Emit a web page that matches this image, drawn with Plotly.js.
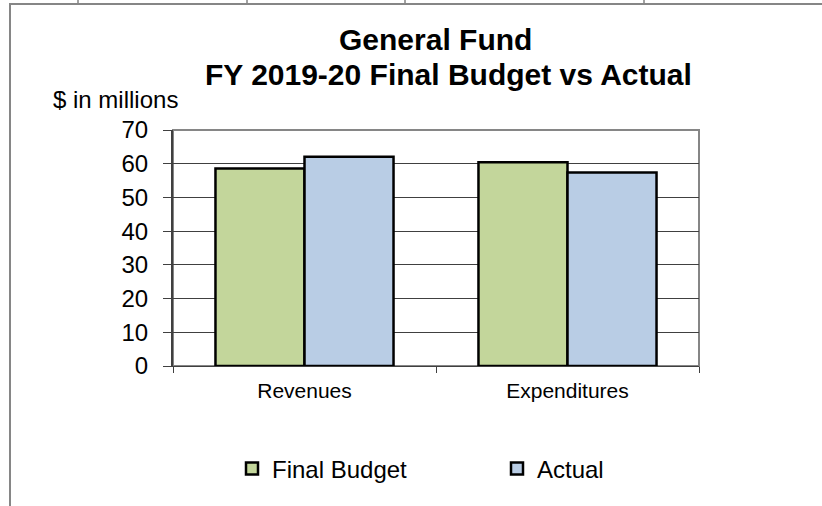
<!DOCTYPE html>
<html>
<head>
<meta charset="utf-8">
<script src="https://cdn.plot.ly/plotly-3.0.1.min.js"></script>
<style>
html,body{margin:0;padding:0;background:#fff;}
#chart{width:822px;height:506px;}
</style>
</head>
<body>
<div id="chart"></div>
<script>
// ---- data ----
var categories = ["Revenues", "Expenditures"];
var seriesNames = ["Final Budget", "Actual"];
var finalBudget = [58.6, 60.4];
var actual = [62.1, 57.4];
var yTicks = [0, 10, 20, 30, 40, 50, 60, 70];
var titleLine1 = "General Fund";
var titleLine2 = "FY 2019-20 Final Budget vs Actual";
var yUnitLabel = "$ in millions";

// ---- layout helpers (pixel -> paper) ----
var W = 822, H = 506;
var L = 173, R = 699, T = 130, B = 366;
function px(x){ return (x - L) / (R - L); }
function py(y){ return (B - y) / (B - T); }

var FONT = "Arial, 'Liberation Sans', sans-serif";

var traces = [
  {type: "bar", name: seriesNames[0], x: categories, y: finalBudget,
   marker: {color: "#C3D69B", line: {color: "#000000", width: 2.5}}},
  {type: "bar", name: seriesNames[1], x: categories, y: actual,
   marker: {color: "#B9CDE5", line: {color: "#000000", width: 2.5}}}
];

var frame = "#868686";
var layout = {
  width: W, height: H,
  margin: {l: L, r: W - R, t: T, b: H - B, pad: 0, autoexpand: false},
  paper_bgcolor: "#ffffff", plot_bgcolor: "#ffffff",
  font: {family: FONT, color: "#000000"},
  barmode: "group", bargap: 0.323, bargroupgap: 0,
  showlegend: true,
  legend: {orientation: "h", xref: "container", yref: "container",
           x: 232 / W, xanchor: "left", y: 1 - 469 / H, yanchor: "middle",
           font: {size: 24, family: FONT, color: "#000"}, entrywidth: 220, entrywidthmode: "pixels",
           bgcolor: "rgba(0,0,0,0)", borderwidth: 0, traceorder: "normal"},
  xaxis: {type: "category", showgrid: false, zeroline: false,
          showline: true, linecolor: "#404040", linewidth: 1,
          ticks: "outside", tickson: "boundaries", ticklen: 6, tickcolor: "#404040", tickwidth: 1,
          tickfont: {size: 21, family: FONT, color: "#000"}, ticklabelstandoff: 6},
  yaxis: {range: [0, 70], tickvals: yTicks, ticktext: yTicks.map(String),
          showgrid: true, gridcolor: "#404040", gridwidth: 1, zeroline: false,
          showline: true, linecolor: "#404040", linewidth: 2,
          ticks: "outside", ticklen: 8, tickcolor: "#404040", tickwidth: 1,
          tickfont: {size: 24, family: FONT, color: "#000"}, ticklabelstandoff: 10},
  shapes: [
    // plot area border (right / top)
    {type: "rect", xref: "paper", yref: "paper", x0: 0, x1: 1, y0: 0, y1: 1,
     line: {color: frame, width: 2}, layer: "below"},
    // outer chart frame (left and top edges)
    {type: "line", xref: "paper", yref: "paper", x0: px(10), x1: px(10), y0: py(3), y1: py(530),
     line: {color: frame, width: 2}},
    {type: "line", xref: "paper", yref: "paper", x0: px(9), x1: px(830), y0: py(4), y1: py(4),
     line: {color: frame, width: 2}},
    // table rules peeking in above the frame
    {type: "line", xref: "paper", yref: "paper", x0: px(78), x1: px(78), y0: py(-2), y1: py(3), line: {color: "#444", width: 1}},
    {type: "line", xref: "paper", yref: "paper", x0: px(247), x1: px(247), y0: py(-2), y1: py(3), line: {color: "#444", width: 1}},
    {type: "line", xref: "paper", yref: "paper", x0: px(405), x1: px(405), y0: py(-2), y1: py(3), line: {color: "#444", width: 1}},
    {type: "line", xref: "paper", yref: "paper", x0: px(644), x1: px(644), y0: py(-2), y1: py(3), line: {color: "#444", width: 1}}
  ],
  annotations: [
    {text: "<b>" + titleLine1 + "</b>", xref: "paper", yref: "paper", x: px(435), y: py(40),
     xanchor: "center", yanchor: "middle", showarrow: false, font: {size: 30, family: FONT, color: "#000"}},
    {text: "<b>" + titleLine2 + "</b>", xref: "paper", yref: "paper", x: px(448), y: py(74),
     xanchor: "center", yanchor: "middle", showarrow: false, font: {size: 30, family: FONT, color: "#000"}},
    {text: yUnitLabel, xref: "paper", yref: "paper", x: px(51), y: py(100),
     xanchor: "left", yanchor: "middle", showarrow: false, font: {size: 24, family: FONT, color: "#000"}}
  ]
};

Plotly.newPlot("chart", traces, layout, {displayModeBar: false, staticPlot: true});
</script>
</body>
</html>
